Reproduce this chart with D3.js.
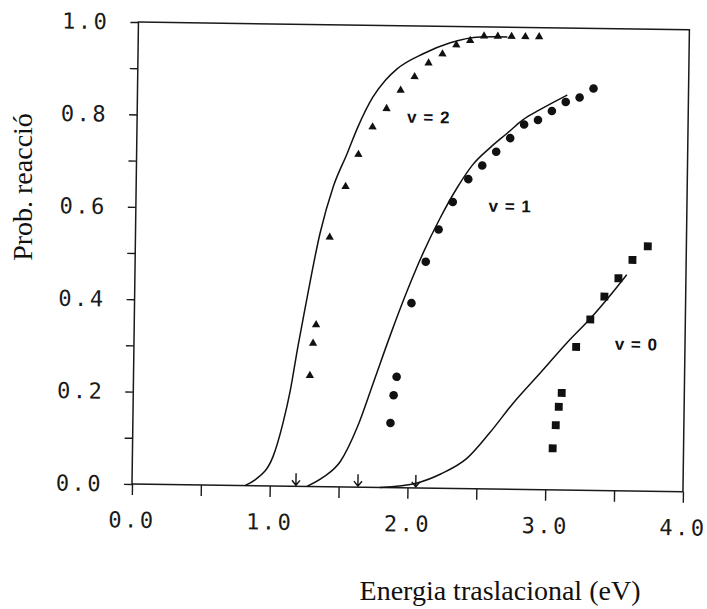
<!DOCTYPE html>
<meta charset="utf-8">
<style>

body {
  margin: 0;
  background: #fff;
}

svg {
  display: block;
}

.axis path {
  display: none;
}

.axis line {
  stroke: #1a1a1a;
  stroke-width: 1.4;
}

.axis text {
  font-family: "DejaVu Sans Mono", monospace;
  font-size: 22px;
  letter-spacing: 2.5px;
  fill: #1a1a1a;
}

.frame {
  fill: none;
  stroke: #1a1a1a;
  stroke-width: 1.5;
}

.fit {
  fill: none;
  stroke: #111;
  stroke-width: 1.5;
}

.arrow {
  fill: none;
  stroke: #111;
  stroke-width: 1.4;
}

.title {
  font-family: "Liberation Serif", "Times New Roman", serif;
  font-size: 28px;
  fill: #111;
}

.tag {
  font-family: "Liberation Sans", Arial, sans-serif;
  font-size: 17px;
  font-weight: bold;
  letter-spacing: 1px;
  fill: #111;
}

</style>
<svg width="707" height="609"></svg>
<script src="https://d3js.org/d3.v7.min.js"></script>
<script>

// ticks
var xTicks = [0, 0.5, 1, 1.5, 2, 2.5, 3, 3.5, 4];
var xTickLabels = ["0.0", "", "1.0", "", "2.0", "", "3.0", "", "4.0"];
var yTicks = [0, 0.1, 0.2, 0.3, 0.4, 0.5, 0.6, 0.7, 0.8, 0.9, 1.0];
var yTickLabels = ["0.0", "", "0.2", "", "0.4", "", "0.6", "", "0.8", "", "1.0"];

// measured points (triangles v=2, circles v=1, squares v=0)
var v2Energy = [1.28, 1.30, 1.32, 1.41, 1.52, 1.61, 1.71, 1.81, 1.91, 2.01, 2.11, 2.21, 2.31, 2.41, 2.51, 2.61, 2.71, 2.81, 2.91];
var v2Prob   = [0.24, 0.31, 0.35, 0.54, 0.65, 0.72, 0.78, 0.82, 0.86, 0.89, 0.92, 0.94, 0.96, 0.97, 0.98, 0.98, 0.98, 0.98, 0.98];

var v1Energy = [1.87, 1.89, 1.91, 2.01, 2.11, 2.20, 2.30, 2.41, 2.51, 2.61, 2.71, 2.81, 2.91, 3.01, 3.11, 3.21, 3.31];
var v1Prob   = [0.14, 0.20, 0.24, 0.40, 0.49, 0.56, 0.62, 0.67, 0.70, 0.73, 0.76, 0.79, 0.80, 0.82, 0.84, 0.85, 0.87];

var v0Energy = [3.05, 3.07, 3.09, 3.11, 3.21, 3.31, 3.41, 3.51, 3.61, 3.72];
var v0Prob   = [0.09, 0.14, 0.18, 0.21, 0.31, 0.37, 0.42, 0.46, 0.50, 0.53];

// calculated curves
var fit2Energy = [0.82, 0.89, 1.02, 1.09, 1.14, 1.19, 1.24, 1.34, 1.43, 1.53, 1.60, 1.71, 1.80, 1.88, 2.07, 2.26, 2.48, 2.68];
var fit2Prob   = [0, 0.012, 0.063, 0.137, 0.208, 0.302, 0.388, 0.549, 0.649, 0.723, 0.777, 0.845, 0.882, 0.906, 0.940, 0.964, 0.978, 0.979];

var fit1Energy = [1.27, 1.39, 1.51, 1.63, 1.74, 1.86, 1.98, 2.09, 2.21, 2.33, 2.44, 2.57, 2.69, 2.80, 2.92, 3.12];
var fit1Prob   = [0, 0.021, 0.055, 0.13, 0.225, 0.33, 0.428, 0.509, 0.585, 0.651, 0.701, 0.740, 0.771, 0.800, 0.822, 0.855];

var fit0Energy = [1.80, 2.07, 2.24, 2.43, 2.59, 2.76, 2.95, 3.14, 3.31, 3.45, 3.57];
var fit0Prob   = [0, 0.011, 0.031, 0.066, 0.121, 0.187, 0.252, 0.318, 0.372, 0.422, 0.468];

// threshold arrows
var arrowEnergy = [1.19, 1.64, 2.06];

// curve tags
var tagText   = ["v = 2", "v = 1", "v = 0"];
var tagEnergy = [1.96, 2.56, 3.49];
var tagProb   = [0.79, 0.60, 0.305];

var svg = d3.select("svg"),
    width = 551,
    height = 462;

svg.append("rect")
    .attr("width", 707)
    .attr("height", 609)
    .attr("fill", "#fff");

// scanned page is a little tilted
var g = svg.append("g")
    .attr("transform", "translate(132,484) rotate(0.8)");

var x = d3.scaleLinear()
    .domain([0, 4])
    .range([0, width]);

var y = d3.scaleLinear()
    .domain([0, 1])
    .range([0, -height]);

g.append("rect")
    .attr("class", "frame")
    .attr("x", 0)
    .attr("y", -height)
    .attr("width", width)
    .attr("height", height);

g.append("g")
    .attr("class", "axis axis--x")
    .call(d3.axisBottom(x)
        .tickValues(xTicks)
        .tickSize(11)
        .tickPadding(17)
        .tickFormat(function(d, i) { return xTickLabels[i]; }));

g.append("g")
    .attr("class", "axis axis--y")
    .call(d3.axisLeft(y)
        .tickValues(yTicks)
        .tickSize(8)
        .tickPadding(21)
        .tickFormat(function(d, i) { return yTickLabels[i]; }));

var line = d3.line()
    .x(function(d) { return x(d[0]); })
    .y(function(d) { return y(d[1]); })
    .curve(d3.curveMonotoneX);

[[fit2Energy, fit2Prob], [fit1Energy, fit1Prob], [fit0Energy, fit0Prob]].forEach(function(f) {
  g.append("path")
      .attr("class", "fit")
      .attr("d", line(d3.zip(f[0], f[1])));
});

function points(energy, prob, type, size) {
  g.append("g")
    .selectAll("path")
    .data(d3.zip(energy, prob))
    .enter().append("path")
      .attr("transform", function(d) { return "translate(" + x(d[0]) + "," + y(d[1]) + ")"; })
      .attr("d", d3.symbol().type(type).size(size))
      .attr("fill", "#111");
}

points(v2Energy, v2Prob, d3.symbolTriangle, 30);
points(v1Energy, v1Prob, d3.symbolCircle, 58);
points(v0Energy, v0Prob, d3.symbolSquare, 62);

g.selectAll(".arrow")
    .data(arrowEnergy)
  .enter().append("path")
    .attr("class", "arrow")
    .attr("d", function(d) {
      var px = x(d);
      return "M" + px + ",-13V-1M" + (px - 4) + ",-6L" + px + ",-1L" + (px + 4) + ",-6";
    });

g.selectAll(".tag")
    .data(tagText)
  .enter().append("text")
    .attr("class", "tag")
    .attr("x", function(d, i) { return x(tagEnergy[i]); })
    .attr("y", function(d, i) { return y(tagProb[i]); })
    .text(function(d) { return d; });

svg.append("text")
    .attr("class", "title")
    .attr("transform", "translate(32,187) rotate(-90)")
    .attr("text-anchor", "middle")
    .text("Prob. reacció");

svg.append("text")
    .attr("class", "title")
    .attr("x", 500)
    .attr("y", 600)
    .attr("text-anchor", "middle")
    .text("Energia traslacional (eV)");

</script>
